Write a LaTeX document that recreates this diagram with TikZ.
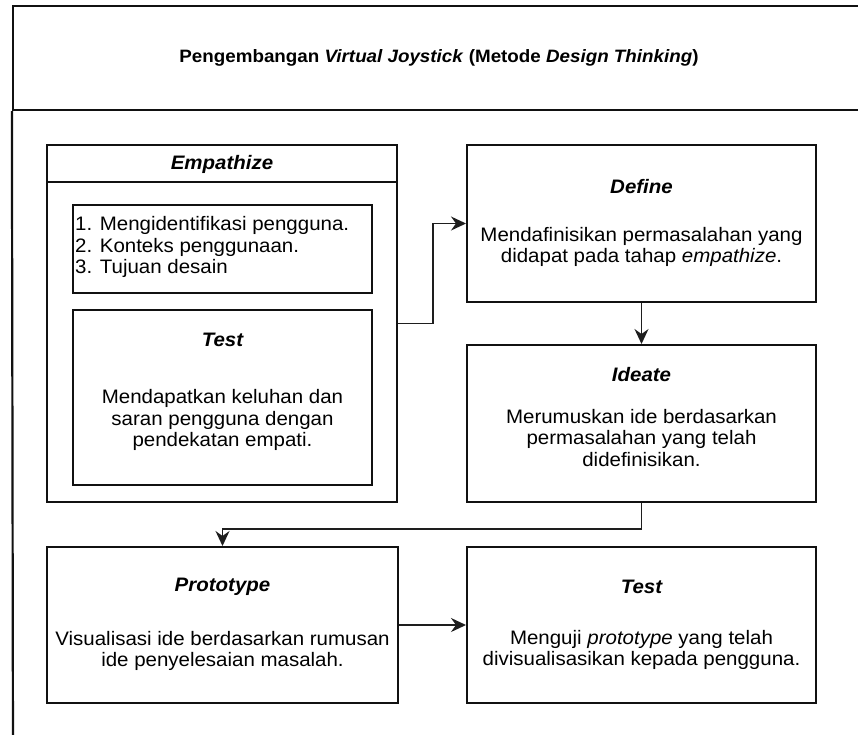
\documentclass[tikz,border=0pt]{standalone}
\usepackage{fontspec}
\setmainfont[FakeStretch=1.05]{Liberation Sans}
\usetikzlibrary{arrows.meta,calc}
\definecolor{boxc}{HTML}{111111}
\definecolor{connc}{HTML}{1E1E1E}
\definecolor{txtc}{HTML}{000000}
\begin{document}
\begin{tikzpicture}[x=1pt,y=-1pt,
  box/.style={draw=boxc, line width=2pt, rectangle, inner sep=0pt},
  conn/.style={draw=connc, line width=1.7pt, -{Stealth[length=15pt,width=14pt,inset=5pt]}},
  frameline/.style={draw=boxc, line width=2.2pt},
  txt/.style={font=\fontsize{19.5}{21.5}\selectfont, align=center, inner sep=0pt, text=txtc},
  head/.style={font=\fontsize{19.5}{21.5}\selectfont\bfseries\itshape, inner sep=0pt, text=txtc},
  titletxt/.style={font=\fontsize{17.9}{20}\selectfont\bfseries, inner sep=0pt, text=txtc}]
\useasboundingbox (0,0) rectangle (858,734);
\clip (0,0) rectangle (858,734);
\fill[white] (0,0) rectangle (858,734);

% outer frame
\node[box, line width=2.2pt, minimum width=857pt, minimum height=104pt] (titlebar) at (441.5,58) {};
\coordinate (framebottom) at (13,760);
\draw[frameline] (titlebar.south west) -- (framebottom);
\node[titletxt] (title) at (439,58) {Pengembangan \textit{Virtual Joystick} (Metode \textit{Design Thinking})};

% Empathize container
\node[box, minimum width=350pt, minimum height=357pt] (emp) at (222,323.5) {};
\draw[boxc, line width=2pt] ($(emp.north west)+(0,38)$) -- ($(emp.north east)+(0,38)$);
\node[head] (emph) at (222,164) {Empathize};

\node[box, minimum width=299pt, minimum height=88pt] (list) at (222.5,249) {};
\node[txt, align=left, anchor=west] (listtxt) at (75,247) {1. Mengidentifikasi pengguna.\\2. Konteks penggunaan.\\3. Tujuan desain};

\node[box, minimum width=299pt, minimum height=175pt] (test1) at (222.5,397.5) {};
\node[head] (test1h) at (222.5,340) {Test};
\node[txt] (test1t) at (222.5,420) {Mendapatkan keluhan dan\\saran pengguna dengan\\pendekatan empati.};

% Define
\node[box, minimum width=349pt, minimum height=157pt] (define) at (641.5,223.5) {};
\node[head] (defineh) at (641.5,187) {Define};
\node[txt] (definet) at (641.5,247) {Mendafinisikan permasalahan yang\\didapat pada tahap \textit{empathize}.};

% Ideate
\node[box, minimum width=349pt, minimum height=157pt] (ideate) at (641.5,423.5) {};
\node[head] (ideateh) at (641.5,375) {Ideate};
\node[txt] (ideatet) at (641.5,438) {Merumuskan ide berdasarkan\\permasalahan yang telah\\didefinisikan.};

% Prototype
\node[box, minimum width=351pt, minimum height=156pt] (proto) at (222.5,625) {};
\node[head] (protoh) at (222.5,587) {Prototype};
\node[txt] (protot) at (222.5,651) {Visualisasi ide berdasarkan rumusan\\ide penyelesaian masalah.};

% Test
\node[box, minimum width=349pt, minimum height=156pt] (test2) at (641.5,625) {};
\node[head] (test2h) at (641.5,587) {Test};
\node[txt] (test2t) at (641.5,650) {Menguji \textit{prototype} yang telah\\divisualisasikan kepada pengguna.};

% connectors
\draw[conn] (emp.east) -- ++(35,0) |- (define.west);
\draw[conn] (define.south) -- (ideate.north);
\draw[conn] (ideate.south) -- ++(0,26) -| (proto.north);
\draw[conn] (proto.east) -- (test2.west);
\end{tikzpicture}
\end{document}
